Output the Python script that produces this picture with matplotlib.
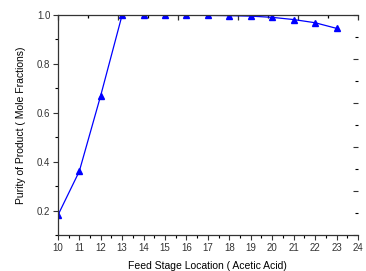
import numpy as np
import matplotlib.pyplot as plt
from matplotlib.ticker import MultipleLocator

plt.rcParams["font.family"] = ["Liberation Sans", "DejaVu Sans"]

# Feed stage vs. product purity
stages = [10, 11, 12, 13, 14, 15, 16, 17, 18, 19, 20, 21, 22, 23]
purity = [0.18, 0.36, 0.67, 1.0, 1.0, 0.999, 0.999, 0.998, 0.997, 0.995,
          0.99, 0.981, 0.968, 0.945]

fig = plt.figure(figsize=(3.66, 2.71), dpi=100)
ax = fig.add_axes([0.158, 0.133, 0.82, 0.812])

ax.plot(stages, purity, color="#0000ff", linewidth=0.9,
        marker="^", markersize=5, markerfacecolor="#0000ff", markeredgecolor="#0000ff")

ax.set_xlim(10, 24)
ax.set_ylim(0.1, 1.0)
ax.xaxis.set_major_locator(MultipleLocator(1))
ax.xaxis.set_minor_locator(MultipleLocator(0.5))
ax.yaxis.set_major_locator(MultipleLocator(0.2))
ax.yaxis.set_minor_locator(MultipleLocator(0.1))
ax.set_yticks([0.2, 0.4, 0.6, 0.8, 1.0])
ax.tick_params(which="major", direction="out", length=3.5, width=0.8, labelsize=7, pad=2, colors="#333333")
ax.tick_params(which="minor", direction="out", length=2, width=0.8)
ax.tick_params(axis="both", labelcolor="#333333")

ax.spines["right"].set_visible(False)
for s in ["left", "bottom", "top"]:
    ax.spines[s].set_linewidth(0.9)
    ax.spines[s].set_color("#333333")

# top and right axes: ticks only, no labels
top = ax.secondary_xaxis("top")
top.set_xticks(np.linspace(10, 24, 6))
top.set_xticks(np.linspace(10, 24, 11), minor=True)
top.tick_params(which="major", direction="in", length=3.5, width=0.9, labeltop=False, colors="#333333")
top.tick_params(which="minor", direction="in", length=2, width=0.9)
top.spines["top"].set_visible(False)

right = ax.secondary_yaxis("right")
right.set_yticks(np.linspace(0.1, 1.0, 6))
right.set_yticks(np.linspace(0.1, 1.0, 11), minor=True)
right.tick_params(which="major", direction="in", length=3.5, width=0.8, labelright=False, colors="#333333")
right.tick_params(which="minor", direction="in", length=2, width=0.8)
right.spines["right"].set_visible(False)

ax.set_xlabel("Feed Stage Location ( Acetic Acid)", fontsize=7.5, labelpad=6)
ax.set_ylabel("Purity of Product ( Mole Fractions)", fontsize=7.5, labelpad=8)

fig.savefig("out.png", dpi=100)
